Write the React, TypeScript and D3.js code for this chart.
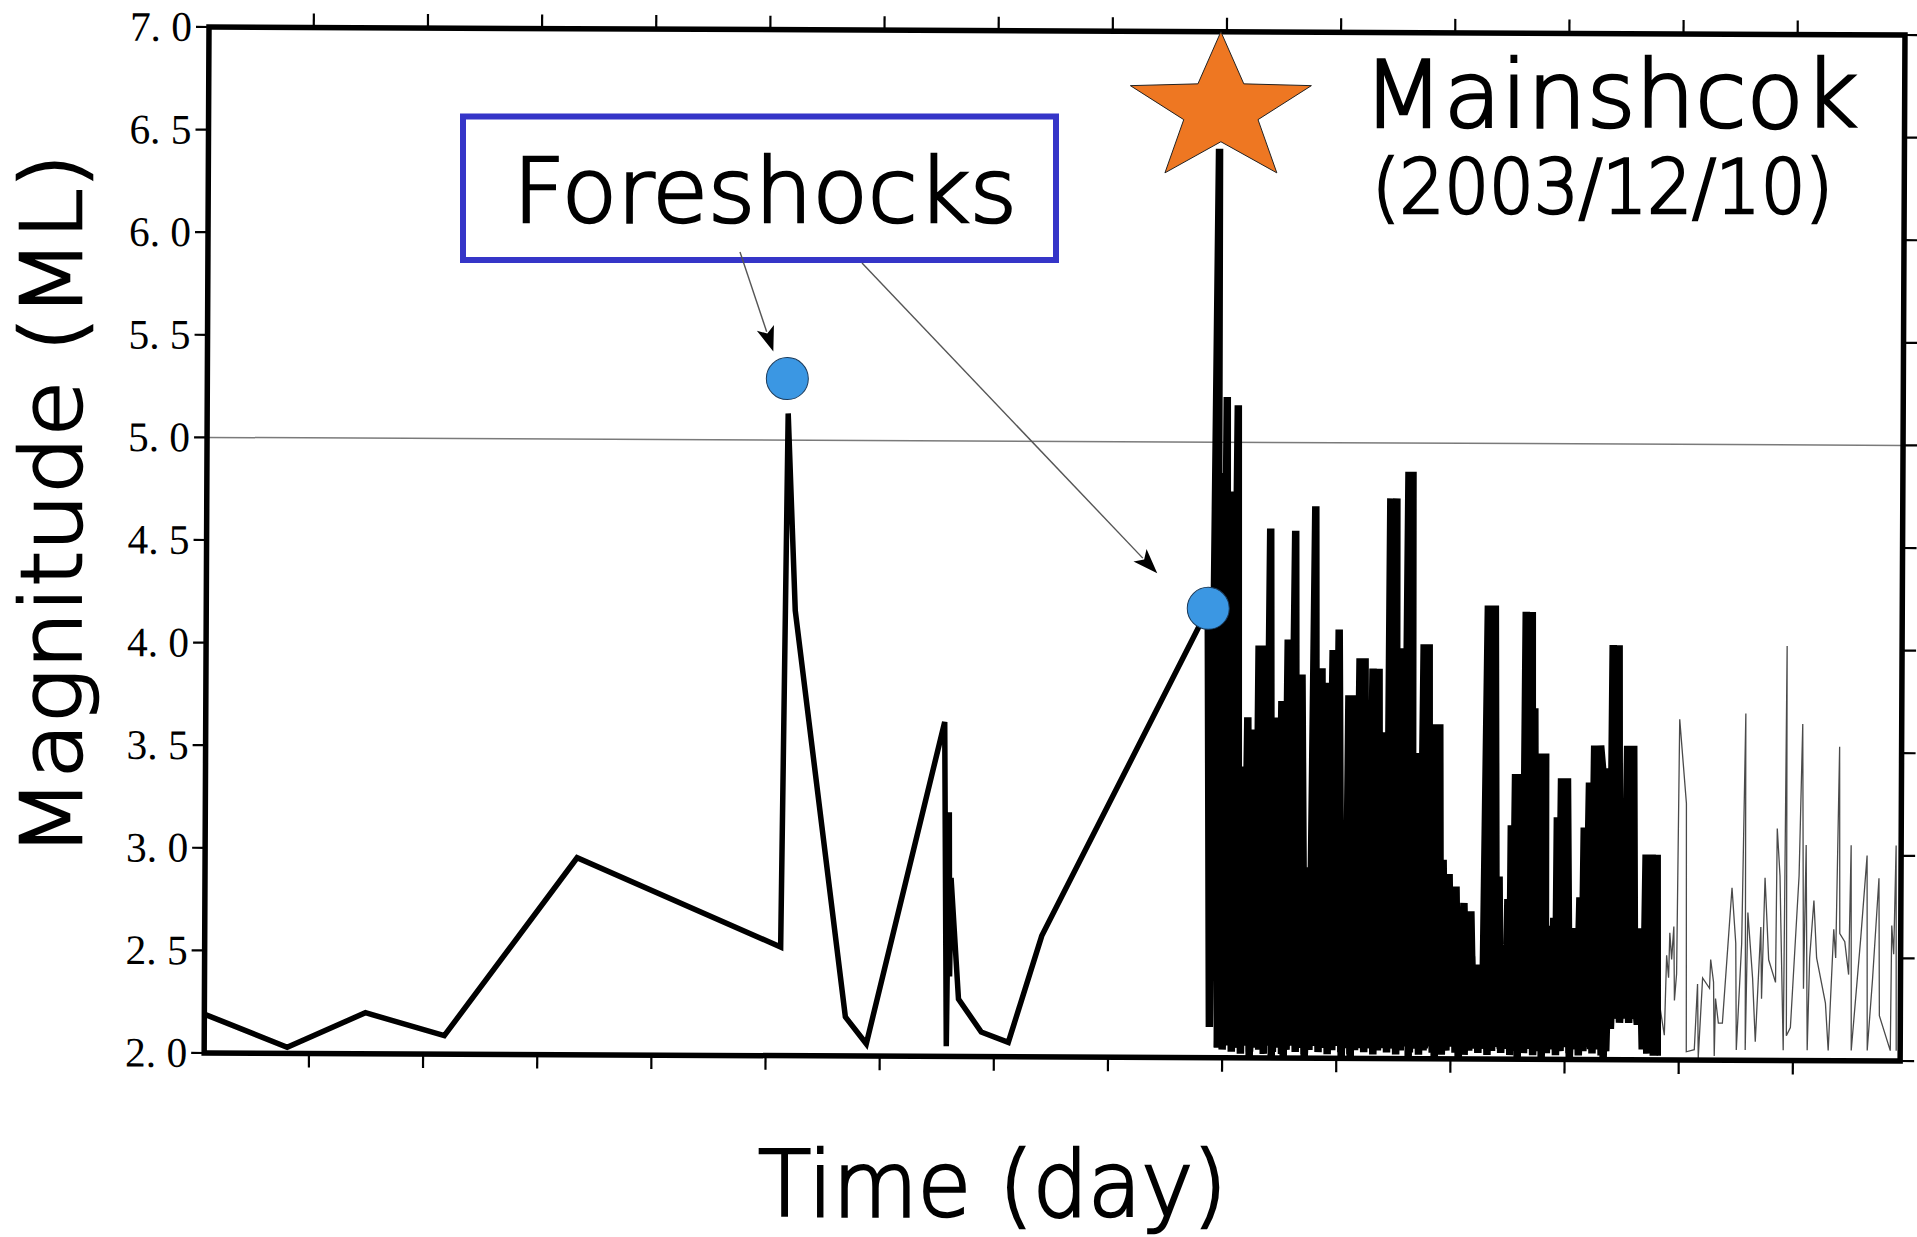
import React from 'react';
import * as d3 from 'd3';

// ---------- data ----------
const yTickValues = [2, 2.5, 3, 3.5, 4, 4.5, 5, 5.5, 6, 6.5, 7];
const xTickDays = [1, 2, 3, 4, 5, 6, 7, 8, 9, 10, 11, 12, 13, 14];
const xDomain = [0.082, 14.94];
const yDomain = [2, 7];
const referenceMag = 5.0;

// foreshock period: [day, magnitude]
const foreshocks: [number, number][] = [
  [0.08, 2.19], [0.809, 2.03], [1.493, 2.2], [2.185, 2.09], [3.341, 2.96],
  [5.128, 2.53], [5.172, 5.13], [5.242, 4.17], [5.698, 2.19], [5.882, 2.06],
  [6.556, 3.63], [6.583, 2.05], [6.6, 3.19], [6.609, 2.39], [6.618, 2.87],
  [6.688, 2.28], [6.889, 2.12], [7.126, 2.07], [7.415, 2.59], [8.86, 4.19],
];

// mainshock + larger aftershocks (thick line)
const aftershocks: [number, number][] = [
  [8.86, 4.19],
  [8.887, 2.15], [8.94, 6.43], [8.957, 2.05], [8.983, 4.85], [9.001, 2.6], [9.018, 5.22],
  [9.045, 2.1], [9.062, 4.76], [9.08, 2.3], [9.115, 5.18], [9.141, 2.05], [9.167, 3.42],
  [9.185, 2.1], [9.211, 3.66], [9.237, 2.0], [9.272, 3.6], [9.29, 2.2], [9.307, 4.01],
  [9.334, 2.05], [9.36, 4.01], [9.378, 2.1], [9.404, 4.58], [9.43, 2.0], [9.456, 3.66],
  [9.483, 2.1], [9.509, 3.74], [9.535, 2.0], [9.562, 4.04], [9.588, 2.1], [9.623, 4.57],
  [9.649, 2.05], [9.684, 3.87], [9.719, 2.0], [9.746, 2.93], [9.763, 2.1], [9.798, 4.69],
  [9.824, 2.1], [9.859, 3.9], [9.877, 2.2], [9.903, 3.83], [9.921, 2.05], [9.956, 3.99],
  [9.982, 2.1], [10.008, 4.09], [10.043, 2.0], [10.07, 2.86], [10.078, 2.1], [10.096, 3.77],
  [10.122, 2.0], [10.148, 3.77], [10.166, 2.15], [10.192, 3.95], [10.219, 2.05], [10.236, 3.95],
  [10.254, 2.1], [10.262, 3.7], [10.28, 2.05], [10.306, 3.9], [10.332, 2.1], [10.359, 3.9],
  [10.376, 2.2], [10.385, 3.59], [10.402, 2.05], [10.42, 3.07], [10.438, 2.1], [10.455, 4.73],
  [10.481, 2.05], [10.508, 4.73], [10.525, 2.15], [10.534, 3.85], [10.551, 2.05], [10.569, 4.0],
  [10.586, 2.1], [10.613, 4.86], [10.63, 2.0], [10.648, 4.86], [10.665, 2.1], [10.683, 3.49],
  [10.7, 2.05], [10.718, 3.49], [10.727, 2.1], [10.753, 4.02], [10.77, 2.05], [10.797, 4.02],
  [10.814, 2.1], [10.832, 3.63], [10.858, 2.0], [10.893, 3.63], [10.911, 2.1], [10.928, 2.97],
  [10.954, 2.05], [10.981, 2.9], [11.007, 2.1], [11.042, 2.84], [11.068, 2.0], [11.112, 2.76],
  [11.138, 2.1], [11.173, 2.72], [11.2, 2.05], [11.226, 2.46], [11.243, 2.1], [11.261, 2.46],
  [11.278, 2.05], [11.314, 4.21], [11.34, 2.1], [11.375, 4.21], [11.401, 2.1], [11.419, 2.89],
  [11.436, 2.05], [11.462, 2.38], [11.48, 2.1], [11.497, 2.78], [11.515, 2.05], [11.524, 3.14],
  [11.541, 2.1], [11.559, 3.39], [11.585, 2.0], [11.611, 3.39], [11.629, 2.15], [11.646, 4.18],
  [11.673, 2.05], [11.699, 4.18], [11.716, 2.1], [11.725, 3.71], [11.743, 2.3], [11.769, 3.49],
  [11.795, 2.0], [11.822, 3.49], [11.83, 2.1], [11.848, 2.65], [11.874, 2.05], [11.9, 2.69],
  [11.918, 2.1], [11.927, 3.18], [11.944, 2.05], [11.962, 3.37], [11.988, 2.1], [12.014, 3.37],
  [12.041, 2.0], [12.076, 2.64], [12.102, 2.05], [12.128, 2.79], [12.146, 2.1], [12.163, 3.13],
  [12.181, 2.2], [12.207, 3.35], [12.225, 2.05], [12.251, 3.53], [12.277, 2.1], [12.303, 3.53],
  [12.321, 3.42], [12.338, 2.0], [12.374, 3.42], [12.391, 2.2], [12.409, 4.02], [12.435, 2.2],
  [12.461, 4.02], [12.479, 2.2], [12.496, 2.79], [12.514, 2.36], [12.54, 3.53], [12.566, 2.2],
  [12.593, 3.53], [12.61, 2.36], [12.636, 2.17], [12.663, 2.64], [12.689, 2.15], [12.706, 3.0],
  [12.733, 2.1], [12.759, 3.0], [12.777, 2.02], [12.803, 3.0], [12.812, 2.02],
];

// many small aftershocks filling the base of the sequence (thick line)
const smallAftershocks: [number, number][] = [
  [8.96, 2.05], [8.98, 2.9], [9.0, 2.04], [9.02, 3.1], [9.04, 2.06], [9.06, 2.8], [9.08, 2.03], [9.1, 3.2],
  [9.12, 2.05], [9.14, 2.9], [9.16, 2.02], [9.18, 3.0], [9.2, 2.06], [9.22, 3.1], [9.24, 2.03], [9.26, 2.8],
  [9.28, 2.05], [9.3, 3.2], [9.32, 2.04], [9.34, 2.9], [9.36, 2.02], [9.38, 3.1], [9.4, 2.06], [9.42, 2.8],
  [9.44, 2.03], [9.46, 3.0], [9.48, 2.05], [9.5, 3.2], [9.52, 2.02], [9.54, 2.9], [9.56, 2.04], [9.58, 3.0],
  [9.6, 2.06], [9.62, 2.8], [9.64, 2.03], [9.66, 3.1], [9.68, 2.05], [9.7, 2.7], [9.72, 2.02], [9.74, 2.9],
  [9.76, 2.04], [9.78, 3.0], [9.8, 2.06], [9.82, 2.8], [9.84, 2.03], [9.86, 3.1], [9.88, 2.05], [9.9, 2.9],
  [9.92, 2.02], [9.94, 3.0], [9.96, 2.04], [9.98, 2.8], [10.0, 2.06], [10.02, 3.1], [10.04, 2.03], [10.06, 2.9],
  [10.08, 2.05], [10.1, 3.0], [10.12, 2.02], [10.14, 2.8], [10.16, 2.04], [10.18, 3.0], [10.2, 2.06], [10.22, 2.9],
  [10.24, 2.03], [10.26, 3.1], [10.28, 2.05], [10.3, 2.8], [10.32, 2.02], [10.34, 2.9], [10.36, 2.04], [10.38, 2.7],
  [10.4, 2.06], [10.42, 2.8], [10.44, 2.03], [10.46, 2.9], [10.48, 2.05], [10.5, 2.7], [10.52, 2.02], [10.54, 2.8],
  [10.56, 2.04], [10.58, 2.9], [10.6, 2.06], [10.62, 2.7], [10.64, 2.03], [10.66, 2.8], [10.68, 2.05], [10.7, 2.9],
  [10.72, 2.02], [10.74, 2.7], [10.76, 2.04], [10.78, 2.8], [10.8, 2.06], [10.82, 2.9], [10.84, 2.03], [10.86, 2.7],
  [10.88, 2.05], [10.9, 2.8], [10.92, 2.02], [10.94, 2.7], [10.96, 2.04], [10.98, 2.6], [11.0, 2.06], [11.02, 2.7],
  [11.04, 2.03], [11.06, 2.6], [11.08, 2.05], [11.1, 2.7], [11.12, 2.02], [11.14, 2.6], [11.16, 2.04], [11.18, 2.5],
  [11.2, 2.06], [11.22, 2.4], [11.24, 2.03], [11.26, 2.45], [11.28, 2.05], [11.3, 2.5], [11.32, 2.02], [11.34, 2.6],
  [11.36, 2.04], [11.38, 2.5], [11.4, 2.06], [11.42, 2.4], [11.44, 2.03], [11.46, 2.35], [11.48, 2.05], [11.5, 2.5],
  [11.52, 2.02], [11.54, 2.6], [11.56, 2.04], [11.58, 2.5], [11.6, 2.06], [11.62, 2.6], [11.64, 2.03], [11.66, 2.5],
  [11.68, 2.05], [11.7, 2.6], [11.72, 2.02], [11.74, 2.5], [11.76, 2.04], [11.78, 2.6], [11.8, 2.06], [11.82, 2.5],
  [11.84, 2.03], [11.86, 2.6], [11.88, 2.05], [11.9, 2.5], [11.92, 2.02], [11.94, 2.6], [11.96, 2.04], [11.98, 2.5],
  [12.0, 2.06], [12.02, 2.6], [12.04, 2.03], [12.06, 2.5], [12.08, 2.05], [12.1, 2.6], [12.12, 2.02], [12.14, 2.5],
  [12.16, 2.04], [12.18, 2.6], [12.2, 2.06], [12.22, 2.5], [12.24, 2.03], [12.26, 2.6], [12.28, 2.05], [12.3, 2.5],
  [12.32, 2.02], [12.34, 2.6], [12.36, 2.04], [12.38, 2.5], [12.4, 2.15], [12.42, 2.5], [12.44, 2.2], [12.46, 2.45],
  [12.48, 2.18], [12.5, 2.4], [12.52, 2.2], [12.54, 2.5], [12.56, 2.18], [12.58, 2.45], [12.6, 2.2], [12.62, 2.4],
  [12.64, 2.17], [12.66, 2.5], [12.68, 2.05], [12.7, 2.6], [12.72, 2.03], [12.74, 2.5], [12.76, 2.04], [12.78, 2.6],
  [12.8, 2.03],
];

// later aftershocks (thin line)
const lateAftershocks: [number, number][] = [
  [12.812, 2.02], [12.821, 2.61], [12.83, 2.27], [12.873, 2.12], [12.89, 2.51], [12.908, 2.4],
  [12.917, 2.62], [12.934, 2.49], [12.952, 2.65], [12.96, 2.29], [12.978, 2.42], [12.995, 3.66],
  [13.057, 3.25], [13.066, 2.04], [13.136, 2.05], [13.162, 2.37], [13.171, 2.01], [13.206, 2.4],
  [13.267, 2.35], [13.276, 2.49], [13.302, 2.38], [13.311, 2.02], [13.32, 2.3], [13.346, 2.18],
  [13.381, 2.18], [13.46, 2.84], [13.495, 2.57], [13.504, 2.05], [13.547, 2.57], [13.574, 3.69],
  [13.582, 2.05], [13.6, 2.72], [13.644, 2.4], [13.67, 2.09], [13.714, 2.65], [13.723, 2.3],
  [13.749, 2.89], [13.784, 2.49], [13.845, 2.38], [13.854, 3.13], [13.88, 2.9], [13.889, 2.67],
  [13.915, 2.05], [13.933, 4.02], [13.942, 2.12], [13.977, 2.16], [14.047, 2.9], [14.073, 3.64],
  [14.09, 2.35], [14.108, 3.05], [14.125, 2.05], [14.143, 2.5], [14.178, 2.78], [14.204, 2.5],
  [14.283, 2.28], [14.309, 2.05], [14.353, 2.64], [14.371, 2.5], [14.397, 3.53], [14.406, 2.62],
  [14.45, 2.58], [14.485, 2.42], [14.502, 3.05], [14.511, 2.05], [14.59, 2.6], [14.642, 3.0],
  [14.651, 2.05], [14.695, 2.4], [14.747, 2.89], [14.756, 2.22], [14.853, 2.05], [14.861, 2.66],
  [14.879, 2.52], [14.896, 3.05], [14.905, 2.05],
];

// highlighted foreshocks (blue dots)
const foreshockMarkers: [number, number][] = [[5.163, 5.3], [8.86, 4.19]];
// mainshock star position
const mainshock: [number, number] = [8.95, 6.62];

// ---------- layout ----------
const FRAME_X = 209;
const FRAME_Y = 27;
const W = 1696;
const H = 1026;
const TILT = 0.27; // degrees (scanned figure is slightly rotated)

const xScale = d3.scaleLinear().domain(xDomain).range([0, W]);
const yScale = d3.scaleLinear().domain(yDomain).range([H, 0]);

const th = (TILT * Math.PI) / 180;
const toScreen = (u: number, v: number): [number, number] => [
  FRAME_X + u * Math.cos(th) - v * Math.sin(th),
  FRAME_Y + u * Math.sin(th) + v * Math.cos(th),
];

const line = d3
  .line<[number, number]>()
  .x((d) => xScale(d[0]))
  .y((d) => yScale(d[1]));

const fmtTick = (v: number) => {
  const s = v.toFixed(1).split('.');
  return `${s[0]}. ${s[1]}`;
};

function Arrow({ x1, y1, x2, y2 }: { x1: number; y1: number; x2: number; y2: number }) {
  const dx = x2 - x1;
  const dy = y2 - y1;
  const len = Math.hypot(dx, dy);
  const ux = dx / len;
  const uy = dy / len;
  const hl = 25;
  const hw = 9;
  const bx = x2 - ux * hl;
  const by = y2 - uy * hl;
  const p1 = [bx - uy * hw, by + ux * hw];
  const p2 = [bx + uy * hw, by - ux * hw];
  return (
    <g>
      <line x1={x1} y1={y1} x2={bx + ux * 4} y2={by + uy * 4} stroke="#555" strokeWidth={1.4} />
      <polygon points={`${x2},${y2} ${p1[0]},${p1[1]} ${bx + ux * 6},${by + uy * 6} ${p2[0]},${p2[1]}`} fill="#000" />
    </g>
  );
}

export default function App() {
  // star
  const [sx0, sy0] = toScreen(xScale(mainshock[0]), yScale(mainshock[1]));
  const R = 78;
  const r = 32;
  const stretch = 1.22;
  const starPts = d3.range(10).map((i) => {
    const a = -Math.PI / 2 + (i * Math.PI) / 5;
    const rad = i % 2 === 0 ? R : r;
    return [sx0 + Math.cos(a) * rad * stretch, sy0 + Math.sin(a) * rad];
  });

  const c1 = toScreen(xScale(foreshockMarkers[0][0]), yScale(foreshockMarkers[0][1]));
  const c2 = toScreen(xScale(foreshockMarkers[1][0]), yScale(foreshockMarkers[1][1]));

  const sans = '"DejaVu Sans", Verdana, sans-serif';
  const textStyle = {
    fontFamily: sans,
    fontWeight: 200 as const,
    fill: '#000',
    stroke: '#000',
    strokeWidth: 2.6,
  };

  return (
    <svg
      width={1917}
      height={1237}
      style={{ position: 'absolute', left: 0, top: 0, background: '#fff' }}
      xmlns="http://www.w3.org/2000/svg"
    >
      <rect x={0} y={0} width={1917} height={1237} fill="#fff" />
      <g transform={`translate(${FRAME_X},${FRAME_Y}) rotate(${TILT})`}>
        {/* reference line at M5.0 */}
        <line
          x1={0}
          x2={W}
          y1={yScale(referenceMag)}
          y2={yScale(referenceMag)}
          stroke="#7a7a7a"
          strokeWidth={1.5}
        />
        <defs>
          <clipPath id="plotClip">
            <rect x={0} y={-200} width={W} height={H + 200} />
          </clipPath>
        </defs>
        <g clipPath="url(#plotClip)">
          <path d={line(lateAftershocks) || ''} fill="none" stroke="#4a4a4a" strokeWidth={1.3} />
          <path
            d={line(smallAftershocks) || ''}
            fill="none"
            stroke="#000"
            strokeWidth={7.5}
            strokeLinejoin="miter"
            strokeMiterlimit={4}
          />
          <path
            d={line(aftershocks) || ''}
            fill="none"
            stroke="#000"
            strokeWidth={7.5}
            strokeLinejoin="miter"
            strokeMiterlimit={4}
          />
          <path
            d={line(foreshocks) || ''}
            fill="none"
            stroke="#000"
            strokeWidth={5.5}
            strokeLinejoin="miter"
            strokeMiterlimit={4}
          />
        </g>
        {foreshockMarkers.map((d, i) => (
          <circle key={i} cx={xScale(d[0])} cy={yScale(d[1])} r={21} fill="#3b97e3" stroke="#1a3a5a" strokeWidth={1} />
        ))}

        {/* frame */}
        <rect x={0} y={0} width={W} height={H} fill="none" stroke="#000" strokeWidth={5.5} />

        {/* y ticks left + right */}
        {yTickValues.map((v) => (
          <g key={v}>
            <line x1={-13} x2={0} y1={yScale(v)} y2={yScale(v)} stroke="#000" strokeWidth={2.2} />
            <line x1={W} x2={W + 14} y1={yScale(v)} y2={yScale(v)} stroke="#000" strokeWidth={2.2} />
            <text
              x={-79}
              y={yScale(v) + 14}
              fontFamily='"Liberation Serif", "DejaVu Serif", serif'
              fontSize={42}
              textLength={62}
              lengthAdjust="spacingAndGlyphs"
              fill="#000"
            >
              {fmtTick(v)}
            </text>
          </g>
        ))}
        {/* x ticks top + bottom */}
        {xTickDays.map((d) => (
          <g key={d}>
            <line x1={xScale(d)} x2={xScale(d)} y1={H} y2={H + 14} stroke="#000" strokeWidth={2.2} />
            <line x1={xScale(d)} x2={xScale(d)} y1={0} y2={-14} stroke="#000" strokeWidth={2.2} />
          </g>
        ))}
      </g>

      {/* axis titles */}
      <text
        transform={`translate(81,505) rotate(-90)`}
        textAnchor="middle"
        fontSize={84}
        textLength={703}
        lengthAdjust="spacingAndGlyphs"
        {...textStyle}
      >
        Magnitude (ML)
      </text>
      <text x={758} y={1216} fontSize={90} textLength={469} lengthAdjust="spacingAndGlyphs" {...textStyle}>
        Time (day)
      </text>

      {/* Foreshocks annotation */}
      <rect x={463} y={116.5} width={593} height={143.5} fill="#fff" stroke="#3535c8" strokeWidth={6} />
      <text x={513} y={222} fontSize={89} textLength={504} lengthAdjust="spacingAndGlyphs" {...textStyle}>
        Foreshocks
      </text>
      <Arrow x1={740} y1={252} x2={c1[0] - 14} y2={c1[1] - 27} />
      <Arrow x1={862} y1={263} x2={c2[0] - 51} y2={c2[1] - 35} />

      {/* mainshock */}
      <polygon
        points={starPts.map((p) => p.join(',')).join(' ')}
        fill="#ee7722"
        stroke="#222"
        strokeWidth={1}
      />
      <text x={1363} y={127} fontSize={92} textLength={495} lengthAdjust="spacingAndGlyphs" {...textStyle}>
        Mainshcok
      </text>
      <text x={1372} y={213} fontSize={74} textLength={461} lengthAdjust="spacingAndGlyphs" {...textStyle}>
        (2003/12/10)
      </text>
    </svg>
  );
}
